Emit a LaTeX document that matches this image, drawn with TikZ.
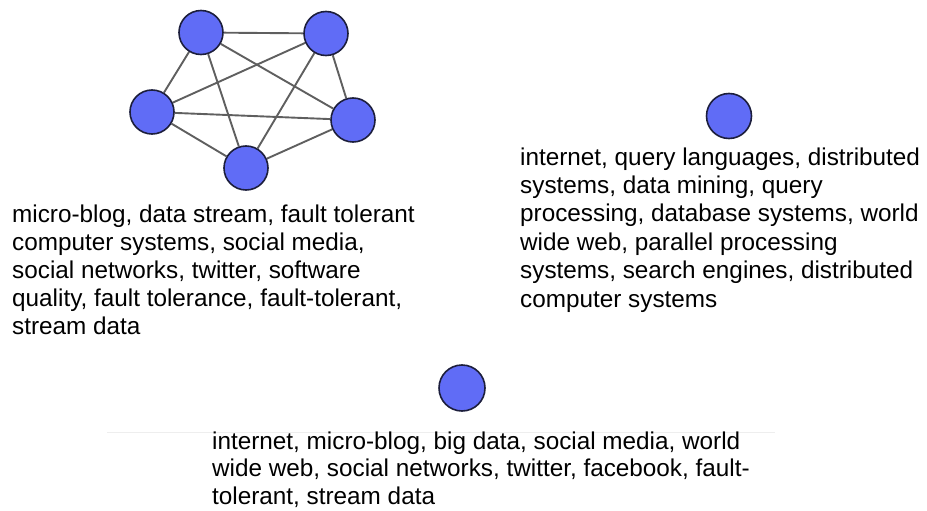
\documentclass[tikz,border=0pt]{standalone}
\usepackage{fontspec}
\setmainfont{Liberation Sans}
\usetikzlibrary{backgrounds}
\definecolor{nodeblue}{RGB}{96,108,246}
\definecolor{nodeedge}{RGB}{28,30,60}
\definecolor{edgegray}{RGB}{95,95,95}
\definecolor{faint}{RGB}{238,238,238}
\tikzset{
  vtx/.style={circle, draw=nodeedge, line width=1.6pt, fill=nodeblue, minimum size=44pt, inner sep=0pt},
  link/.style={draw=edgegray, line width=1.9pt},
  lbl/.style={anchor=base west, inner sep=0pt, font=\fontsize{24.3}{28}\selectfont, text=black}
}
\begin{document}
\begin{tikzpicture}[x=1pt,y=-1pt]
\useasboundingbox (0,0) rectangle (927,511);
% cluster 1
\node[vtx] (a) at (201,32.5) {};
\node[vtx] (b) at (326,33.5) {};
\node[vtx] (c) at (152,112) {};
\node[vtx] (d) at (353,120) {};
\node[vtx] (e) at (246,168) {};
\begin{scope}[on background layer]
\foreach \u/\v in {a/b,a/c,a/d,a/e,b/c,b/d,b/e,c/d,c/e,d/e}
  \draw[link] (\u) -- (\v);
\end{scope}
\node[lbl] (l1) at (12,222) {micro-blog, data stream, fault tolerant};
\node[lbl] (l2) at (12,250) {computer systems, social media,};
\node[lbl] (l3) at (12,278) {social networks, twitter, software};
\node[lbl] (l4) at (12,306) {quality, fault tolerance, fault-tolerant,};
\node[lbl] (l5) at (12,334) {stream data};
% cluster 2
\node[vtx, minimum size=45pt] (f) at (729,116) {};
\node[lbl] (r1) at (520,165) {internet, query languages, distributed};
\node[lbl] (r2) at (520,193.4) {systems, data mining, query};
\node[lbl] (r3) at (520,221.8) {processing, database systems, world};
\node[lbl] (r4) at (520,250.2) {wide web, parallel processing};
\node[lbl] (r5) at (520,278.6) {systems, search engines, distributed};
\node[lbl] (r6) at (520,307) {computer systems};
% cluster 3
\node[vtx, minimum size=46pt] (g) at (462,388) {};
\coordinate (s1) at (107,432.7);
\coordinate (s2) at (775,432.7);
\draw[faint, line width=1pt] (s1) -- (s2);
\node[lbl] (m1) at (212,449) {internet, micro-blog, big data, social media, world};
\node[lbl] (m2) at (212,476.5) {wide web, social networks, twitter, facebook, fault-};
\node[lbl] (m3) at (212,504) {tolerant, stream data};
\end{tikzpicture}
\end{document}
